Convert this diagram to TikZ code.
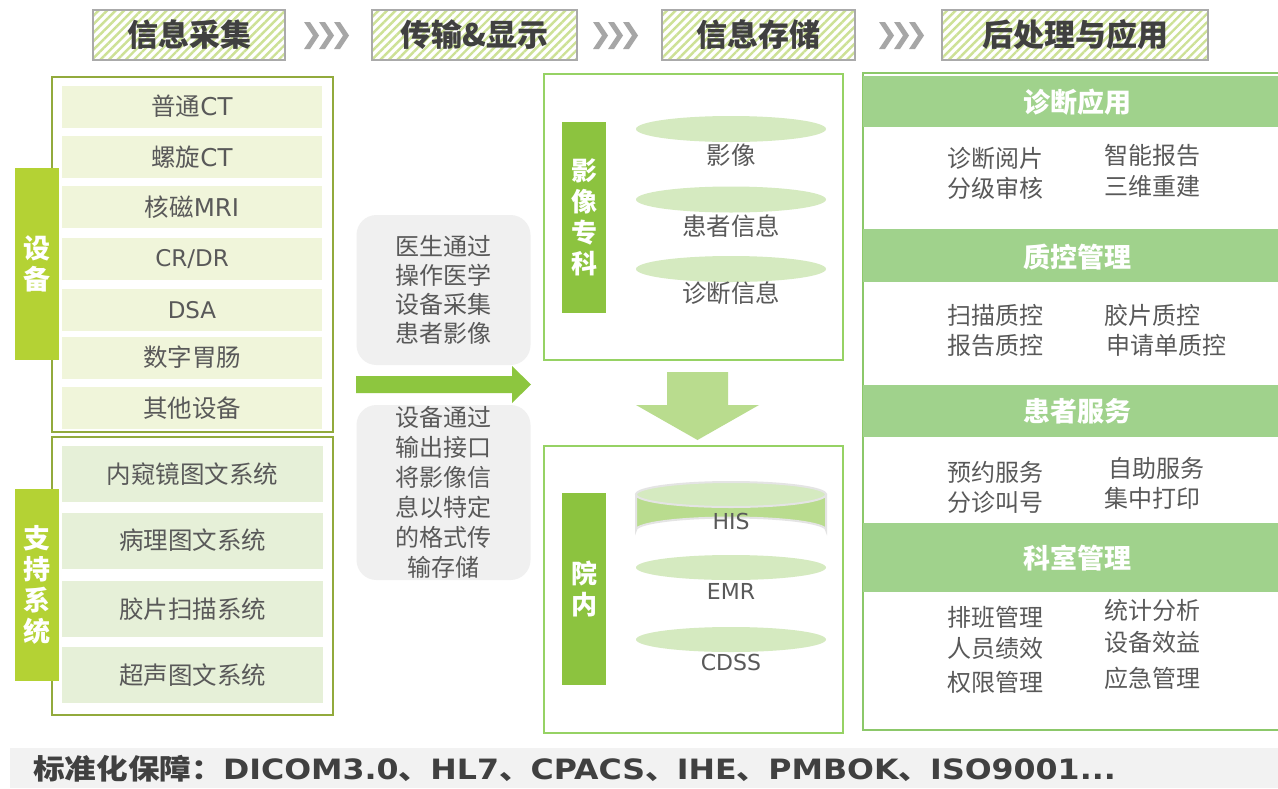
\documentclass[tikz,border=0pt]{standalone}
\usepackage{fontspec}
\setmainfont{Noto Sans CJK SC}
\newfontfamily\lat{DejaVu Sans}
\usetikzlibrary{patterns.meta,shapes.geometric}
\definecolor{hdrgray}{RGB}{170,170,170}
\definecolor{stripe}{RGB}{205,225,150}
\definecolor{txtdark}{RGB}{64,64,64}
\definecolor{txtgray}{RGB}{89,89,89}
\definecolor{olive}{RGB}{146,170,60}
\definecolor{devfill}{RGB}{240,245,218}
\definecolor{supfill}{RGB}{230,240,216}
\definecolor{tabyg}{RGB}{180,210,52}
\definecolor{midgray}{RGB}{240,240,240}
\definecolor{arrgreen}{RGB}{141,198,63}
\definecolor{boxgreen}{RGB}{150,210,100}
\definecolor{tabgreen}{RGB}{140,195,63}
\definecolor{ellfill}{RGB}{213,234,192}
\definecolor{darrow}{RGB}{185,220,142}
\definecolor{cylbody}{RGB}{185,220,142}
\definecolor{cylline}{RGB}{228,228,228}
\definecolor{barfill}{RGB}{160,210,140}
\definecolor{panelline}{RGB}{140,200,106}
\definecolor{strip}{RGB}{242,242,242}
\definecolor{chev}{RGB}{166,166,166}
\begin{document}
\begin{tikzpicture}[x=1pt,y=-1pt,
  hdr/.style={draw=hdrgray, line width=2pt,
    pattern={Lines[angle=45,distance=6pt,line width=2.4pt]}, pattern color=stripe,
    font=\bfseries\fontsize{31}{32}\selectfont, text=txtdark,
    minimum height=50pt, inner sep=0pt},
  outerbox/.style={draw=olive, line width=2.6pt, inner sep=0pt},
  devrow/.style={fill=devfill, minimum width=260pt, minimum height=42pt,
    font=\fontsize{24.5}{26}\selectfont, text=txtgray, inner sep=0pt},
  suprow/.style={fill=supfill, minimum width=261pt, minimum height=56pt,
    font=\fontsize{24.5}{26}\selectfont, text=txtgray, inner sep=0pt},
  sidetab/.style={fill=tabyg, minimum width=44pt, text=white,
    font=\bfseries\fontsize{27}{31}\selectfont, align=center, inner sep=0pt},
  grtab/.style={fill=tabgreen, minimum width=44pt, text=white,
    font=\bfseries\fontsize{26}{31}\selectfont, align=center, inner sep=0pt},
  midbox/.style={fill=midgray, rounded corners=20pt, minimum width=174pt,
    text=txtgray, font=\fontsize{24}{29}\selectfont, align=center, inner sep=0pt},
  greenbox/.style={draw=boxgreen, line width=2pt, minimum width=299pt, inner sep=0pt},
  disc/.style={ellipse, fill=ellfill, minimum width=190pt, minimum height=26pt, inner sep=0pt},
  disclabel/.style={text=txtgray, font=\fontsize{24.5}{26}\selectfont, inner sep=0pt},
  bar/.style={fill=barfill, minimum width=415pt, inner sep=0pt},
  bartext/.style={text=white, font=\bfseries\fontsize{27}{28}\selectfont, inner sep=0pt},
  item/.style={text=txtgray, font=\fontsize{24}{26}\selectfont, anchor=west, inner sep=0pt},
]
\useasboundingbox (0,0) rectangle (1278,788);
\fill[white] (0,0) rectangle (1278,788);

% ---------- header row ----------
\node[hdr, minimum width=192pt] (h1) at (189,35) {信息采集};
\node[hdr, minimum width=205pt] (h2) at (474.5,35) {传输\&显示};
\node[hdr, minimum width=193pt] (h3) at (758.5,35) {信息存储};
\node[hdr, minimum width=266pt] (h4) at (1075,35) {后处理与应用};
\foreach \gx in {304,593,879}{
  \foreach \k in {0,15,30}{
    \fill[chev] ({\gx+\k},22) -- ++(6,0) -- ++(9,13.5) -- ++(-9,13.5) -- ++(-6,0) -- ++(9,-13.5) -- cycle;
  }
}

% ---------- devices ----------
\node[outerbox, minimum width=281pt, minimum height=355pt] (devbox) at (192.5,254.5) {};
\node[devrow] (d1) at (192,106.5) {普通{\lat CT}};
\node[devrow] (d2) at (192,157) {螺旋{\lat CT}};
\node[devrow] (d3) at (192,207) {核磁{\lat MRI}};
\node[devrow, font=\lat\fontsize{23}{26}\selectfont] (d4) at (192,259) {CR/DR};
\node[devrow, font=\lat\fontsize{23}{26}\selectfont] (d5) at (192,310) {DSA};
\node[devrow] (d6) at (192,357.5) {数字胃肠};
\node[devrow] (d7) at (192,408) {其他设备};
\node[sidetab, minimum height=192pt] (devtab) at (37,264) {设\\备};

% ---------- support systems ----------
\node[outerbox, minimum width=281pt, minimum height=278pt] (supbox) at (192.5,576) {};
\node[suprow] (s1) at (192.5,474) {内窥镜图文系统};
\node[suprow] (s2) at (192.5,540.5) {病理图文系统};
\node[suprow] (s3) at (192.5,609) {胶片扫描系统};
\node[suprow] (s4) at (192.5,675) {超声图文系统};
\node[sidetab, minimum height=192pt] (suptab) at (37,585) {支\\持\\系\\统};

% ---------- middle ----------
\node[midbox, minimum height=150pt] (m1) at (443.5,290) {医生通过\\操作医学\\设备采集\\患者影像};
\node[midbox, minimum height=175pt, font=\fontsize{24}{30}\selectfont] (m2) at (443.5,492.5) {设备通过\\输出接口\\将影像信\\息以特定\\的格式传\\输存储};
\fill[arrgreen] (356,376) -- (512,376) -- (512,366) -- (531,384.5) -- (512,403) -- (512,393) -- (356,393) -- cycle;

% ---------- imaging dept ----------
\node[greenbox, minimum height=286pt] (img) at (693,217) {};
\node[grtab, minimum height=191pt] (imgtab) at (584,217.5) {影\\像\\专\\科};
\node[disc] (e1) at (731,129) {};
\node[disclabel] (t1) at (731,155) {影像};
\node[disc] (e2) at (731,199.5) {};
\node[disclabel] (t2) at (731,226) {患者信息};
\node[disc] (e3) at (731,269) {};
\node[disclabel] (t3) at (731,293) {诊断信息};

% down arrow
\fill[darrow] (667,372) -- (728,372) -- (728,405) -- (759,405) -- (697.5,440) -- (636,405) -- (667,405) -- cycle;

% ---------- hospital ----------
\node[greenbox, minimum height=287pt] (hosp) at (693,589.5) {};
\node[grtab, minimum height=192pt] (hosptab) at (584,589) {院\\内};
% cylinder HIS
\fill[cylbody, draw=cylline, line width=2pt] (636,494.5) -- (636,530) arc[start angle=180, end angle=360, x radius=95, y radius=12.5] -- (826,494.5) -- cycle;
\node[disc, draw=cylline, line width=2pt, minimum height=25pt] (cyltop) at (731,494.5) {};
\node[disclabel, font=\lat\fontsize{22}{24}\selectfont] (his) at (731,521) {HIS};
\node[disc, minimum height=25pt] (e4) at (731,567.5) {};
\node[disclabel, font=\lat\fontsize{22}{24}\selectfont] (emr) at (731,591) {EMR};
\node[disc, minimum height=25pt] (e5) at (731,639.5) {};
\node[disclabel, font=\lat\fontsize{22}{24}\selectfont] (cdss) at (731,662) {CDSS};

% ---------- right panel ----------
\draw[panelline, line width=2.4pt] (1280,73) -- (863,73) -- (863,730) -- (1280,730);
\node[bar, minimum height=51pt] (b1) at (1070.5,101.5) {};
\node[bartext] (b1t) at (1077,102) {诊断应用};
\node[item] (i11) at (947,158) {诊断阅片};
\node[item] (i12) at (947,188) {分级审核};
\node[item] (i13) at (1104,155) {智能报告};
\node[item] (i14) at (1104,186) {三维重建};

\node[bar, minimum height=53pt] (b2) at (1070.5,255.5) {};
\node[bartext] (b2t) at (1077,257) {质控管理};
\node[item] (i21) at (947,315) {扫描质控};
\node[item] (i22) at (947,345) {报告质控};
\node[item] (i23) at (1104,315) {胶片质控};
\node[item] (i24) at (1106,345) {申请单质控};

\node[bar, minimum height=52pt] (b3) at (1070.5,411) {};
\node[bartext] (b3t) at (1077,411) {患者服务};
\node[item] (i31) at (947,472) {预约服务};
\node[item] (i32) at (947,502) {分诊叫号};
\node[item] (i33) at (1108,468) {自助服务};
\node[item] (i34) at (1104,498) {集中打印};

\node[bar, minimum height=69pt] (b4) at (1070.5,557.5) {};
\node[bartext] (b4t) at (1077,558) {科室管理};
\node[item] (i41) at (947,617) {排班管理};
\node[item] (i42) at (947,648) {人员绩效};
\node[item] (i43) at (947,682) {权限管理};
\node[item] (i44) at (1104,610) {统计分析};
\node[item] (i45) at (1104,642) {设备效益};
\node[item] (i46) at (1104,678) {应急管理};

% ---------- bottom strip ----------
\fill[strip] (10,748) rectangle (1278,788);
\node[anchor=west, text=txtdark, font=\bfseries\fontsize{28}{29}\selectfont, inner sep=0pt] (std) at (33,769) {\scalebox{1.13}[1]{标准化保障：{\lat DICOM3.0}、{\lat HL7}、{\lat CPACS}、{\lat IHE}、{\lat PMBOK}、{\lat ISO9001...}}};
\end{tikzpicture}
\end{document}
